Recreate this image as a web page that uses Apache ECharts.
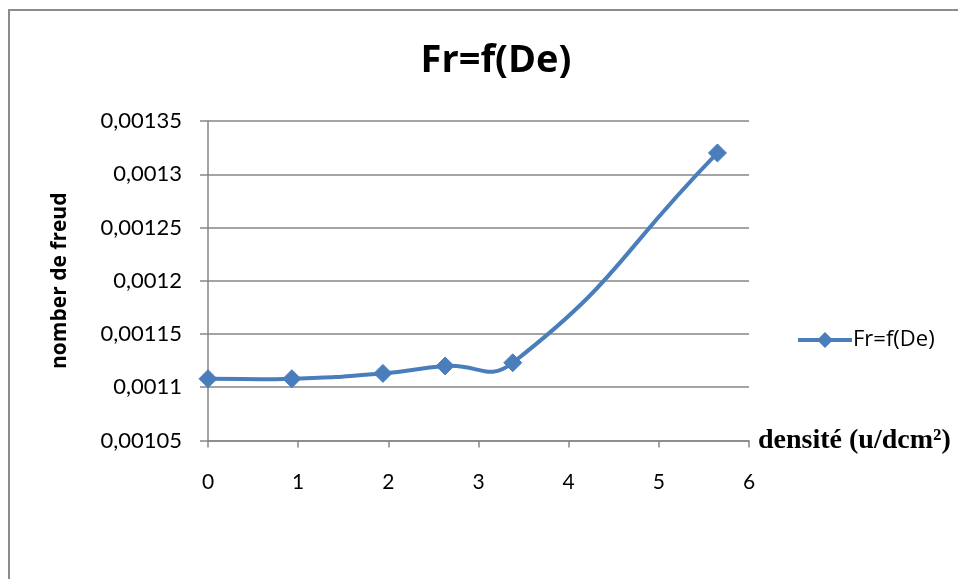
<!DOCTYPE html>
<html>
<head>
<meta charset="utf-8">
<title>Fr=f(De)</title>
<script src="https://cdn.jsdelivr.net/npm/echarts@6/dist/echarts.min.js"></script>
<style>
  html, body { margin: 0; padding: 0; background: #ffffff; }
  #chart { width: 958px; height: 579px; }
</style>
</head>
<body>
<div id="chart"></div>
<script>
// Density (u/dcm²) and the matching Froude number
const densite = [0, 0.93, 1.94, 2.63, 3.38, 5.65];
const froude = [0.001108, 0.001108, 0.001113, 0.00112, 0.001123, 0.00132];
const seriesName = 'Fr=f(De)';
const yTicks = [0.00105, 0.0011, 0.00115, 0.0012, 0.00125, 0.0013, 0.00135];
const xTicks = [0, 1, 2, 3, 4, 5, 6];

const points = densite.map((d, i) => [d, froude[i]]);
const grey = '#868686';
const blue = '#4a7ebb';
const SMOOTH = 0.5;

// French decimal comma for the y labels
function frNumber(v) {
  return String(Number(v.toPrecision(6))).replace('.', ',');
}

// Unclamped smoothing: each segment is a cubic Bézier whose control points
// follow the neighbouring points, so the curve may overshoot between them.
function renderSegment(params, api) {
  const i = params.dataIndex;
  if (i === 0) return null;
  const n = points.length;
  const P = j => api.coord(points[Math.max(0, Math.min(n - 1, j))]);
  const dist = (a, b) => Math.hypot(a[0] - b[0], a[1] - b[1]);

  function tangent(j) {
    const prev = P(j - 1), cur = P(j), next = P(j + 1);
    const lp = dist(prev, cur), ln = dist(cur, next);
    const ratioNext = (lp + ln) > 0 ? ln / (lp + ln) : 0.5;
    return { v: [next[0] - prev[0], next[1] - prev[1]], ratioNext: ratioNext, p: cur };
  }
  const a = tangent(i - 1);
  const b = tangent(i);
  const cp1 = [a.p[0] + a.v[0] * SMOOTH * a.ratioNext, a.p[1] + a.v[1] * SMOOTH * a.ratioNext];
  const cp2 = [b.p[0] - b.v[0] * SMOOTH * (1 - b.ratioNext), b.p[1] - b.v[1] * SMOOTH * (1 - b.ratioNext)];
  return {
    type: 'bezierCurve',
    shape: {
      x1: a.p[0], y1: a.p[1], x2: b.p[0], y2: b.p[1],
      cpx1: cp1[0], cpy1: cp1[1], cpx2: cp2[0], cpy2: cp2[1]
    },
    style: { stroke: blue, lineWidth: 4, fill: null, lineCap: 'round' }
  };
}

const chart = echarts.init(document.getElementById('chart'));
chart.setOption({
  animation: false,
  backgroundColor: '#ffffff',
  title: {
    text: seriesName,
    left: 491,
    top: 37,
    textAlign: 'center',
    textStyle: { fontFamily: 'Open Sans', fontWeight: 'bold', fontSize: 38, color: '#000' }
  },
  graphic: [{
    type: 'rect',
    shape: { x: 9, y: 10, width: 980, height: 600 },
    style: { fill: 'none', stroke: '#8c8c8c', lineWidth: 2 },
    silent: true
  }],
  legend: {
    left: 796,
    top: 329,
    padding: 0,
    itemWidth: 54,
    itemHeight: 20,
    itemGap: 10,
    data: [{ name: seriesName, lineStyle: { color: blue, width: 4, opacity: 1 } }],
    lineStyle: { color: blue, width: 4, opacity: 1 },
    textStyle: { fontFamily: 'Open Sans', fontSize: 22, color: '#000', padding: [0, 0, 0, -4] }
  },
  grid: { left: 208, right: 209, top: 121, bottom: 138.5, containLabel: false },
  xAxis: {
    type: 'value',
    min: xTicks[0],
    max: xTicks[xTicks.length - 1],
    interval: 1,
    name: 'densité (u/dcm²)',
    nameLocation: 'end',
    nameGap: 9,
    nameTextStyle: {
      fontFamily: 'Liberation Serif', fontWeight: 'bold', fontSize: 28, color: '#000',
      verticalAlign: 'middle', padding: [13, 0, 0, 0]
    },
    axisLine: { show: true, lineStyle: { color: grey, width: 1.5 } },
    axisTick: { show: true, length: 7, lineStyle: { color: grey, width: 1.5 } },
    axisLabel: { margin: 31, fontFamily: 'Lato', fontSize: 21, color: '#000' },
    splitLine: { show: false }
  },
  yAxis: {
    type: 'value',
    min: yTicks[0],
    max: yTicks[yTicks.length - 1],
    interval: 0.00005,
    name: 'nomber de freud',
    nameLocation: 'middle',
    nameGap: 137,
    nameRotate: 90,
    nameTextStyle: { fontFamily: 'Open Sans', fontWeight: 'bold', fontSize: 21, color: '#000' },
    axisLine: { show: true, lineStyle: { color: grey, width: 1.5 } },
    axisTick: { show: true, length: 8, lineStyle: { color: grey, width: 1.5 } },
    axisLabel: { margin: 26, fontFamily: 'Lato', fontSize: 22, color: '#000', formatter: frNumber },
    splitLine: { show: true, lineStyle: { color: grey, width: 1.5 } }
  },
  series: [{
    name: 'courbe',
    type: 'custom',
    data: points,
    encode: { x: 0, y: 1 },
    renderItem: renderSegment,
    z: 4
  }, {
    name: seriesName,
    type: 'line',
    data: points,
    symbol: 'diamond',
    symbolSize: 18,
    lineStyle: { color: blue, width: 4, opacity: 0 },
    itemStyle: { color: blue, borderColor: blue },
    z: 5
  }]
});
</script>
</body>
</html>
